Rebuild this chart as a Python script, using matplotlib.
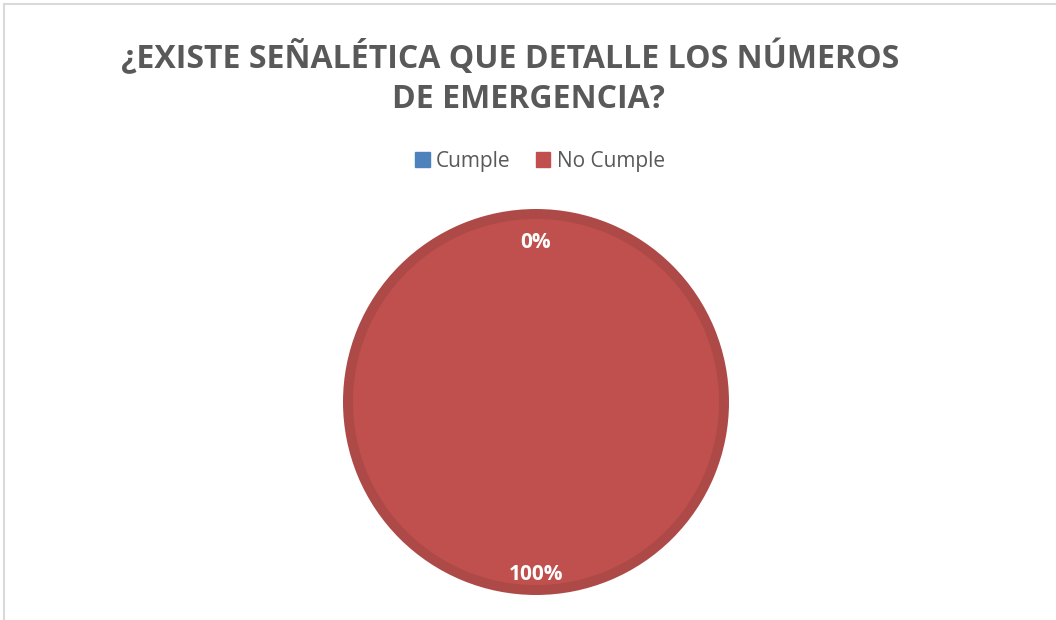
import matplotlib
matplotlib.use('Agg')
import matplotlib.pyplot as plt
from matplotlib.lines import Line2D
import numpy as np

# Data
labels = ['Cumple', 'No Cumple']
values = [0, 100]
colors = ['#4f81bd', '#c0504d']
title_lines = ['¿EXISTE SEÑALÉTICA QUE DETALLE LOS NÚMEROS', 'DE EMERGENCIA?']

TEXT_COLOR = '#595959'
FONT = ['Open Sans', 'DejaVu Sans']

W, H = 1056, 620
fig = plt.figure(figsize=(W / 100, H / 100), dpi=100)
fig.patch.set_facecolor('white')

# chart frame (left and top edges visible)
fig.add_artist(Line2D([4 / W, 4 / W], [0, 1 - 4 / H], color='#d9d9d9', lw=1.5))
fig.add_artist(Line2D([4 / W, 1], [1 - 4 / H, 1 - 4 / H], color='#d9d9d9', lw=1.5))

# title
fig.text(510 / W, 1 - 58 / H, title_lines[0], ha='center', va='center',
         fontsize=23, fontweight='bold', color=TEXT_COLOR, family=FONT)
fig.text(528 / W, 1 - 100 / H, title_lines[1], ha='center', va='center',
         fontsize=23, fontweight='bold', color=TEXT_COLOR, family=FONT)

# pie axes: centre (536, 402) px, wedge radius 188 px
cx, cy, half = 536, 402, 200
ax = fig.add_axes([(cx - half) / W, (H - cy - half) / H, 2 * half / W, 2 * half / H])

wedges, _ = ax.pie(values, colors=colors, startangle=90, counterclock=False,
                   radius=1, wedgeprops=dict(edgecolor='#ad4a48', linewidth=7.2))
lim = half / 188
ax.set_xlim(-lim, lim)
ax.set_ylim(-lim, lim)
ax.set_aspect('equal')
ax.axis('off')

# data labels
dists = [0.85, 0.92]
total = sum(values)
for w, v, d in zip(wedges, values, dists):
    ang = np.deg2rad((w.theta1 + w.theta2) / 2)
    ax.text(d * np.cos(ang), d * np.sin(ang), f'{v / total:.0%}', ha='center', va='center',
            fontsize=15, fontweight='bold', color='white', family=FONT)

# legend
handles = [plt.Rectangle((0, 0), 1, 1, color=c) for c in colors]
fig.legend(handles, labels, loc='center', bbox_to_anchor=(540 / W, 1 - 161 / H), ncol=2,
           frameon=False, handlelength=0.7, handleheight=0.7,
           handletextpad=0.3, columnspacing=1.2,
           prop=dict(family=FONT, size=15), labelcolor=TEXT_COLOR)

fig.savefig('out.png', dpi=100)
